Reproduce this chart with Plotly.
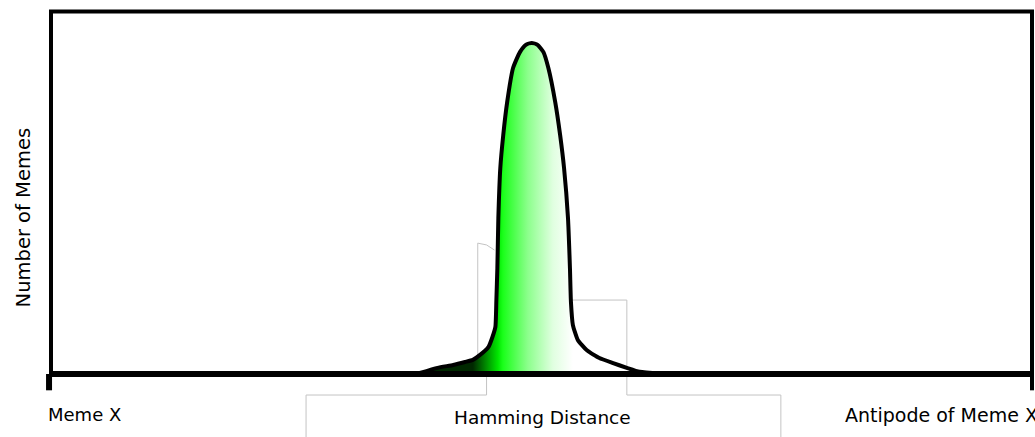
import plotly.graph_objects as go

# ---- data (Hamming distance 0..100, number of memes 0..100 scale) ----
curve_x = [37.6, 39.4, 41.0, 42.2, 43.0, 43.7, 44.6, 45.0, 45.3, 45.4, 45.5, 45.6,
           45.8, 46.1, 46.5, 47.1, 47.8, 48.4, 49.0, 49.6, 50.2, 50.7, 51.4, 51.9,
           52.3, 52.7, 52.9, 53.0, 53.2, 53.7, 54.6, 55.9, 57.3, 58.7, 60.0, 62.1]
curve_y = [0.3, 1.7, 2.5, 3.3, 3.9, 5.2, 7.5, 10.2, 13.0, 20.4, 29.2, 43.0,
           56.8, 65.9, 75.0, 84.4, 88.8, 90.8, 91.3, 90.8, 88.8, 84.4, 75.0, 65.9,
           56.8, 43.0, 29.2, 19.9, 13.5, 9.4, 6.6, 4.4, 3.0, 1.7, 0.6, 0.1]

gray_left_x = [43.5, 43.5, 44.4, 45.2]
gray_left_y = [0.0, 36.1, 35.6, 34.2]
gray_bottom_x = [44.4, 44.4, 26.0, 26.0]
gray_bottom_y = [-0.5, -5.8, -5.8, -17.5]
gray_right_x = [53.0, 58.7, 58.7, 74.4, 74.4]
gray_right_y = [20.4, 20.4, -5.8, -5.8, -17.5]

x_min, x_max = 0, 100
y_min, y_max = 0, 100

left_label = "Meme X"
right_label = "Antipode of Meme X"
x_title = "Hamming Distance"
y_title = "Number of Memes"

FONT = "DejaVu Sans"
GRAY = "#c4c4c4"

fig = go.Figure()

for gx, gy in [(gray_left_x, gray_left_y), (gray_bottom_x, gray_bottom_y),
               (gray_right_x, gray_right_y)]:
    fig.add_trace(go.Scatter(x=gx, y=gy, mode="lines",
                             line=dict(color=GRAY, width=1),
                             hoverinfo="skip", showlegend=False))

fig.add_trace(go.Scatter(
    x=curve_x, y=curve_y, mode="lines",
    line=dict(color="black", width=4, shape="spline", smoothing=0.5),
    fill="tozeroy",
    fillgradient=dict(
        type="horizontal", start=43.0, stop=53.2,
        colorscale=[[0.0, "#002800"], [0.25, "#00e600"], [0.3, "#1aff1a"],
                     [0.55, "#8cff8c"], [0.8, "#e0ffe0"], [1.0, "#ffffff"]]),
    hoverinfo="skip", showlegend=False))

# frame
fig.add_shape(type="rect", xref="x", yref="y", x0=x_min, x1=x_max, y0=y_min, y1=y_max,
              line=dict(color="black", width=4), layer="above")
fig.add_shape(type="line", xref="x", yref="y", x0=x_min, x1=x_max, y0=y_min, y1=y_min,
              line=dict(color="black", width=6), layer="above")
fig.add_shape(type="line", xref="x", yref="y", x0=x_min - 0.2, x1=x_min - 0.2, y0=y_min, y1=-4.5,
              line=dict(color="black", width=6), layer="above")
fig.add_shape(type="line", xref="x", yref="y", x0=x_max, x1=x_max, y0=y_min, y1=-4.5,
              line=dict(color="black", width=4), layer="above")

fig.add_annotation(x=-0.5, y=-11.3, xref="x", yref="y", text=left_label, showarrow=False,
                   xanchor="left", yanchor="middle", font=dict(family=FONT, size=18, color="black"))
fig.add_annotation(x=80.7, y=-11.3, xref="x", yref="y", text=right_label, showarrow=False,
                   xanchor="left", yanchor="middle", font=dict(family=FONT, size=19, color="black"))
fig.add_annotation(x=50.15, y=-12.1, xref="x", yref="y", text=x_title, showarrow=False,
                   xanchor="center", yanchor="middle", font=dict(family=FONT, size=18.5, color="black"))
fig.add_annotation(x=-2.85, y=43.2, xref="x", yref="y", text=y_title, showarrow=False, textangle=-90,
                   xanchor="center", yanchor="middle", font=dict(family=FONT, size=19.5, color="black"))

fig.update_layout(
    width=1035, height=437,
    margin=dict(l=0, r=0, t=0, b=0),
    paper_bgcolor="white", plot_bgcolor="white",
    xaxis=dict(range=[-5.199, 100.306], visible=False, fixedrange=True),
    yaxis=dict(range=[-17.38, 103.17], visible=False, fixedrange=True),
    showlegend=False,
)

fig.write_html("out.html",
               config={"displayModeBar": False, "staticPlot": True},
               post_script="document.body.style.margin='0';"
                           "document.documentElement.style.overflow='hidden';")
